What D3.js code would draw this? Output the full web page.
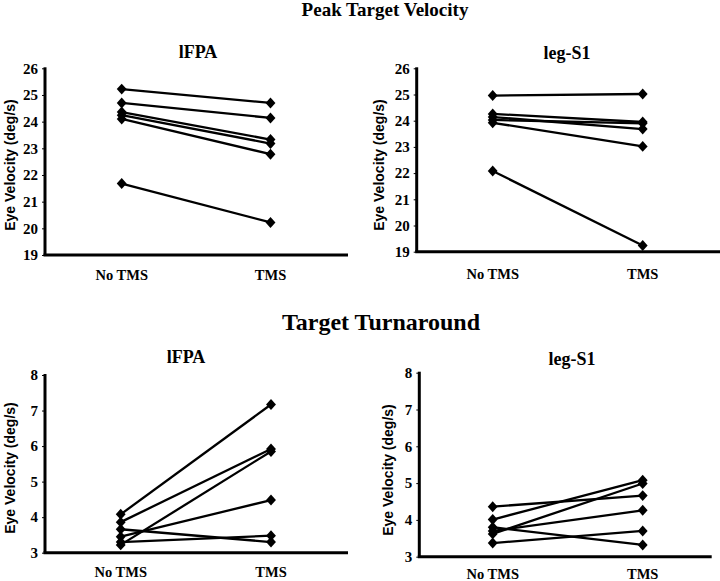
<!DOCTYPE html>
<html>
<head>
<meta charset="utf-8">
<script src="https://cdn.jsdelivr.net/npm/d3@7"></script>
<style>
  body { margin: 0; background: #fff; }
  svg { display: block; }
  .serif { font-family: "Liberation Serif", "Times New Roman", Times, "DejaVu Serif", serif; font-weight: bold; }
  .sans { font-family: "Liberation Sans", Arial, Helvetica, sans-serif; font-weight: bold; }
</style>
</head>
<body>
<script>
// ---- data ----
const categories = ["No TMS", "TMS"];

const peakLfpaNoTMS = [25.22, 24.70, 24.36, 24.24, 24.10, 21.68];
const peakLfpaTMS   = [24.70, 24.14, 23.33, 23.18, 22.78, 20.22];

const peakLegNoTMS  = [24.96, 24.26, 24.14, 24.03, 23.92, 22.08];
const peakLegTMS    = [25.02, 23.95, 23.68, 23.90, 23.02, 19.24];

const turnLfpaNoTMS = [4.08, 3.86, 3.22, 3.45, 3.66, 3.30];
const turnLfpaTMS   = [7.17, 5.92, 5.85, 4.48, 3.30, 3.48];

const turnLegNoTMS  = [4.36, 4.01, 3.62, 3.70, 3.80, 3.37];
const turnLegTMS    = [4.66, 5.08, 4.99, 4.26, 3.32, 3.70];

const peakTicks = [19, 20, 21, 22, 23, 24, 25, 26];
const turnTicks = [3, 4, 5, 6, 7, 8];

const sectionTitles = ["Peak Target Velocity", "Target Turnaround"];
const panelTitles = ["lFPA", "leg-S1", "lFPA", "leg-S1"];
const yLabel = "Eye Velocity (deg/s)";

// ---- layout ----
const W = 720, H = 581;

const svg = d3.select("body").append("svg").attr("width", W).attr("height", H);

svg.append("text").attr("class", "serif").attr("x", 385).attr("y", 16).attr("text-anchor", "middle")
  .style("font-size", "19px").text(sectionTitles[0]);
svg.append("text").attr("class", "serif").attr("x", 381).attr("y", 330).attr("text-anchor", "middle")
  .style("font-size", "24px").text(sectionTitles[1]);

const panels = [
  { title: panelTitles[0], tx: 198, ty: 58, axisX: 45, axisEnd: 348, pts: [121.7, 270.5],
    yDom: [19, 26], yRange: [255, 68.3], ticks: peakTicks, no: peakLfpaNoTMS, tms: peakLfpaTMS,
    labX: 9.5, labY: 165, catY: 280 },
  { title: panelTitles[1], tx: 567, ty: 59, axisX: 416.7, axisEnd: 722, pts: [492.7, 642.7],
    yDom: [19, 26], yRange: [251.7, 68.3], ticks: peakTicks, no: peakLegNoTMS, tms: peakLegTMS,
    labX: 379, labY: 165, catY: 279 },
  { title: panelTitles[2], tx: 186, ty: 363, axisX: 45, axisEnd: 348, pts: [120.7, 271],
    yDom: [3, 8], yRange: [552.7, 375], ticks: turnTicks, no: turnLfpaNoTMS, tms: turnLfpaTMS,
    labX: 10, labY: 468, catY: 577 },
  { title: panelTitles[3], tx: 572, ty: 365, axisX: 419.3, axisEnd: 711.7, pts: [492.7, 642.7],
    yDom: [3, 8], yRange: [556.7, 372.7], ticks: turnTicks, no: turnLegNoTMS, tms: turnLegTMS,
    labX: 387.5, labY: 470, catY: 578.5 }
];

// custom diamond symbol
const diamond = {
  draw(ctx, size) {
    const h = Math.sqrt(size) / 2;
    const w = h * 0.9;
    ctx.moveTo(0, -h); ctx.lineTo(w, 0); ctx.lineTo(0, h); ctx.lineTo(-w, 0); ctx.closePath();
  }
};

panels.forEach(p => {
  const g = svg.append("g");
  const x = d3.scalePoint().domain(categories).range(p.pts);
  const y = d3.scaleLinear().domain(p.yDom).range(p.yRange);

  g.append("text").attr("class", "serif").attr("x", p.tx).attr("y", p.ty).attr("text-anchor", "middle")
    .style("font-size", "18px").text(p.title);

  // y axis ticks & labels
  const ax = g.append("g").attr("transform", `translate(${p.axisX},0)`)
    .call(d3.axisLeft(y).tickValues(p.ticks).tickSize(3).tickPadding(4).tickFormat(d3.format("d")));
  ax.attr("font-family", null).attr("font-size", null);
  ax.select(".domain").remove();
  ax.selectAll(".tick line").attr("stroke", "#000").attr("stroke-width", 1);
  ax.selectAll(".tick text").attr("class", "serif")
    .style("font-size", "15px").attr("fill", "#000");

  // axis lines
  g.append("line").attr("x1", p.axisX).attr("x2", p.axisX)
    .attr("y1", y(p.yDom[1]) - 1).attr("y2", y(p.yDom[0]))
    .attr("stroke", "#000").attr("stroke-width", 3);
  g.append("line").attr("x1", p.axisX - 1.5).attr("x2", p.axisEnd)
    .attr("y1", y(p.yDom[0])).attr("y2", y(p.yDom[0]))
    .attr("stroke", "#000").attr("stroke-width", 3);

  // category labels
  categories.forEach(c => {
    g.append("text").attr("class", "serif").attr("x", x(c)).attr("y", p.catY).attr("text-anchor", "middle")
      .style("font-size", "14.5px").text(c);
  });

  // y label
  g.append("text").attr("class", "sans")
    .attr("transform", `translate(${p.labX + 5},${p.labY}) rotate(-90)`)
    .attr("text-anchor", "middle")
    .style("font-size", "14px").text(yLabel);

  // lines
  const pairs = p.no.map((v, i) => [v, p.tms[i]]);
  const line = d3.line().x((d, i) => x(categories[i])).y(d => y(d));
  g.selectAll("path.subj").data(pairs).enter().append("path")
    .attr("class", "subj").attr("d", d => line(d))
    .attr("fill", "none").attr("stroke", "#000").attr("stroke-width", 2.3);

  // markers
  const sym = d3.symbol().type(diamond).size(120);
  pairs.forEach(pr => {
    pr.forEach((v, i) => {
      g.append("path").attr("d", sym())
        .attr("transform", `translate(${x(categories[i])},${y(v)})`)
        .attr("fill", "#000");
    });
  });
});
</script>
</body>
</html>
